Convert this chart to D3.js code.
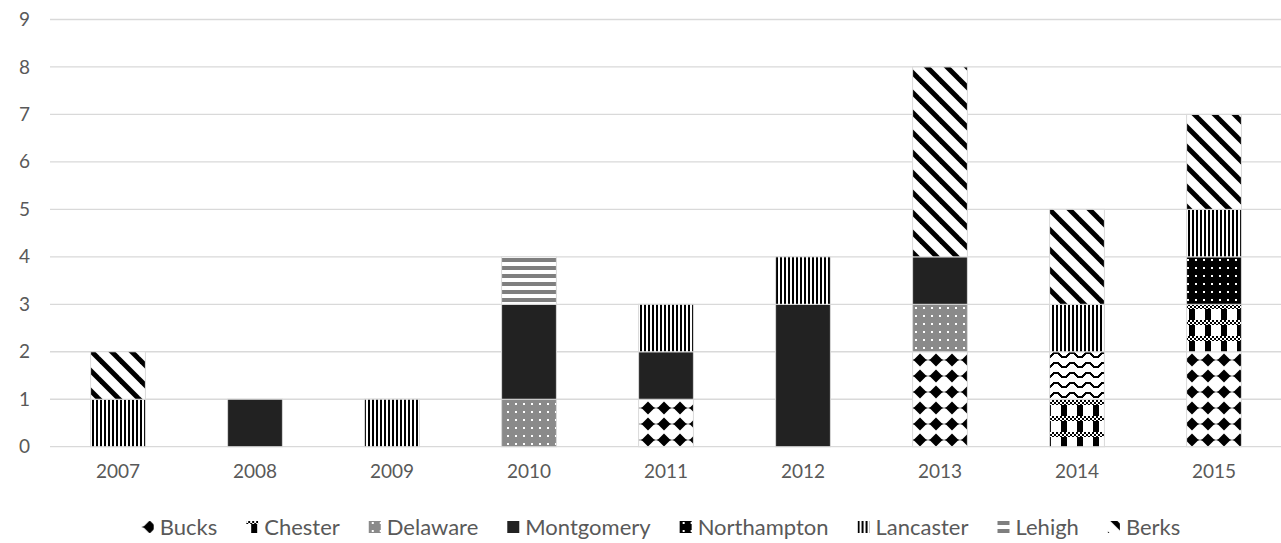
<!DOCTYPE html>
<html>
<head>
<meta charset="utf-8">
<script src="https://cdn.jsdelivr.net/npm/d3@7"></script>
<style>
  html, body { margin: 0; padding: 0; background: #fff; }
  svg { display: block; }
  text { font-family: Lato, "Liberation Sans", sans-serif; fill: #595959; }
</style>
</head>
<body>
<svg id="chart" width="1281" height="543"></svg>
<script>
// Incidents per county and year
const years = ["2007", "2008", "2009", "2010", "2011", "2012", "2013", "2014", "2015"];
const counties = ["Bucks", "Chester", "Delaware", "Montgomery", "Northampton", "Lancaster", "Lehigh", "Berks"];
const bucks       = [0, 0, 0, 0, 1, 0, 2, 0, 2];
const chester     = [0, 0, 0, 0, 0, 0, 0, 1, 1];
const delaware    = [0, 0, 0, 1, 0, 0, 1, 0, 0];
const montgomery  = [0, 1, 0, 2, 1, 3, 1, 0, 0];
const northampton = [0, 0, 0, 0, 0, 0, 0, 1, 1];
const lancaster   = [1, 0, 1, 0, 1, 1, 0, 1, 1];
const lehigh      = [0, 0, 0, 1, 0, 0, 0, 0, 0];
const berks       = [1, 0, 0, 0, 0, 0, 4, 2, 2];
const yTicks = [0, 1, 2, 3, 4, 5, 6, 7, 8, 9];

const valuesByCounty = {
  Bucks: bucks, Chester: chester, Delaware: delaware, Montgomery: montgomery,
  Northampton: northampton, Lancaster: lancaster, Lehigh: lehigh, Berks: berks
};

// Fill styles (pattern fills for a monochrome print look)
const countyFill = {
  Bucks: "url(#p-diamond)", Chester: "url(#p-checker)", Delaware: "url(#p-dots-gray)",
  Montgomery: "#222222", Northampton: "url(#p-dots-black)", Lancaster: "url(#p-vert)",
  Lehigh: "url(#p-horiz)", Berks: "url(#p-diag)"
};
const fillOverrides = { "Northampton|2014": "url(#p-wave)" };

const table = years.map((y, i) => {
  const row = { year: y };
  counties.forEach(c => { row[c] = valuesByCounty[c][i]; });
  return row;
});

const svg = d3.select("#chart");
const defs = svg.append("defs");

function pattern(id, w, h) {
  return defs.append("pattern").attr("id", id)
    .attr("patternUnits", "userSpaceOnUse").attr("width", w).attr("height", h);
}

// fine checker used inside the Chester pattern
let p = pattern("p-fine", 4, 4);
p.append("rect").attr("width", 4).attr("height", 4).attr("fill", "#fff");
p.append("rect").attr("width", 2).attr("height", 2).attr("fill", "#000");
p.append("rect").attr("x", 2).attr("y", 2).attr("width", 2).attr("height", 2).attr("fill", "#000");

// solid diamonds
p = pattern("p-diamond", 16, 16);
p.append("rect").attr("width", 16).attr("height", 16).attr("fill", "#fff");
p.append("polygon").attr("points", "8,1.5 14.5,8 8,14.5 1.5,8").attr("fill", "#000");
p.append("rect").attr("x", 0.5).attr("y", 7.5).attr("width", 15).attr("height", 1).attr("fill", "#000");

// checker band with blocks
p = pattern("p-checker", 16, 16);
p.append("rect").attr("width", 16).attr("height", 16).attr("fill", "#fff");
p.append("rect").attr("x", 5).attr("y", 5).attr("width", 6).attr("height", 11).attr("fill", "#000");
p.append("rect").attr("width", 16).attr("height", 5).attr("fill", "url(#p-fine)");

// gray with white dots
p = pattern("p-dots-gray", 8, 8);
p.append("rect").attr("width", 8).attr("height", 8).attr("fill", "#8a8a8a");
p.append("rect").attr("x", 3).attr("y", 3).attr("width", 2).attr("height", 2).attr("fill", "#fff");

// black with white dots
p = pattern("p-dots-black", 8, 8);
p.append("rect").attr("width", 8).attr("height", 8).attr("fill", "#000");
p.append("rect").attr("x", 3).attr("y", 3).attr("width", 2).attr("height", 2).attr("fill", "#fff");

// vertical lines
p = pattern("p-vert", 4, 4);
p.append("rect").attr("width", 4).attr("height", 4).attr("fill", "#fff");
p.append("rect").attr("width", 2).attr("height", 4).attr("fill", "#000");

// horizontal gray lines
p = pattern("p-horiz", 8, 8);
p.append("rect").attr("width", 8).attr("height", 8).attr("fill", "#fff");
p.append("rect").attr("y", 2).attr("width", 8).attr("height", 4).attr("fill", "#7f7f7f");

// wide downward diagonal
p = pattern("p-diag", 20, 20);
p.append("rect").attr("width", 20).attr("height", 20).attr("fill", "#fff");
p.append("polygon").attr("points", "0,0 3.5,0 20,16.5 20,20 16.5,20 0,3.5").attr("fill", "#000");
p.append("polygon").attr("points", "16.5,0 20,0 20,3.5").attr("fill", "#000");
p.append("polygon").attr("points", "0,16.5 3.5,20 0,20").attr("fill", "#000");

// zigzag wave
p = pattern("p-wave", 16, 10);
p.append("rect").attr("width", 16).attr("height", 10).attr("fill", "#fff");
p.append("path").attr("d", "M0,3 H2 L6,7 H10 L14,3 H16")
  .attr("fill", "none").attr("stroke", "#000").attr("stroke-width", 2)
  .attr("shape-rendering", "crispEdges");

// Scales
const x = d3.scaleBand().domain(years).range([49.5, 1282.5]).paddingInner(0.6).paddingOuter(0.3);
const y = d3.scaleLinear().domain([0, 9]).range([446.7, 19.5]);

// Gridlines
svg.append("g").selectAll("line").data(yTicks).join("line")
  .attr("x1", 50).attr("x2", 1281)
  .attr("y1", d => y(d)).attr("y2", d => y(d))
  .attr("stroke", "#d9d9d9").attr("stroke-width", 1.3);

// Y axis labels
const yAxis = svg.append("g").attr("transform", "translate(50,0)")
  .call(d3.axisLeft(y).tickValues(yTicks).tickFormat(d3.format("d")).tickSize(0).tickPadding(20));
yAxis.select(".domain").remove();
yAxis.selectAll("text").style("font-size", "19px").attr("fill", "#595959");

// Stacked bars
const stacked = d3.stack().keys(counties)(table);
svg.append("g").selectAll("g").data(stacked).join("g")
  .each(function (layer) {
    d3.select(this).selectAll("rect")
      .data(layer.filter(d => d[1] - d[0] > 0))
      .join("rect")
      .attr("x", d => x(d.data.year))
      .attr("width", x.bandwidth())
      .attr("y", d => y(d[1]))
      .attr("height", d => y(d[0]) - y(d[1]))
      .attr("fill", d => fillOverrides[layer.key + "|" + d.data.year] || countyFill[layer.key])
      .attr("stroke", "#d9d9d9").attr("stroke-width", 1);
  });

// X axis labels
const xAxis = svg.append("g").attr("transform", `translate(0,${y(0)})`)
  .call(d3.axisBottom(x).tickSize(0).tickPadding(18));
xAxis.select(".domain").remove();
xAxis.selectAll("text").style("font-size", "19px").attr("fill", "#595959");

// Legend
const legend = svg.append("g");
const items = legend.selectAll("g").data(counties).join("g");
items.append("rect").attr("width", 12).attr("height", 12).attr("y", -14)
  .attr("fill", d => countyFill[d]);
items.append("text").attr("x", 18).attr("y", 0).style("font-size", "22px").text(d => d);
let cursor = 0;
items.each(function () {
  const g = d3.select(this);
  const w = 18 + g.select("text").node().getComputedTextLength();
  g.attr("data-x", cursor);
  cursor += w + 29;
});
const total = cursor - 29;
const startX = 661 - total / 2;
items.attr("transform", function () { return `translate(${startX + (+this.getAttribute("data-x"))},535)`; });
</script>
</body>
</html>
